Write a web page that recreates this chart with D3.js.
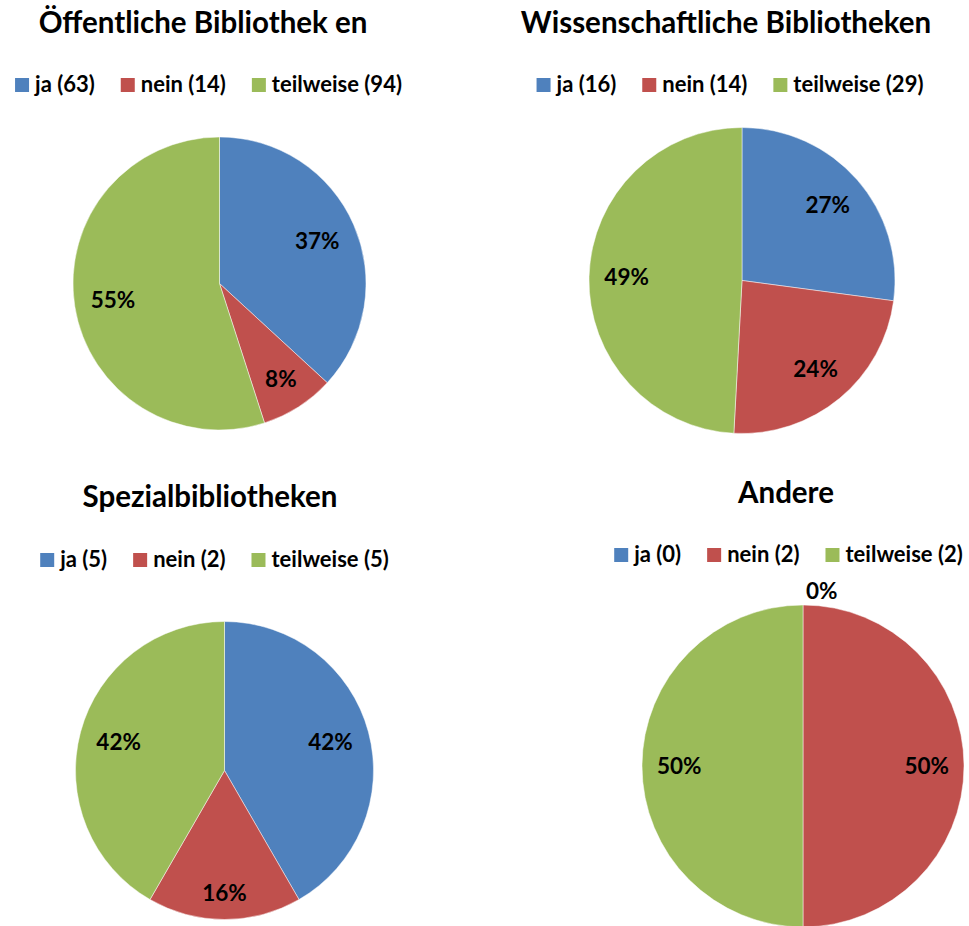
<!DOCTYPE html>
<html>
<head>
<meta charset="utf-8">
<title>Bibliotheken - ja / nein / teilweise</title>
<script src="https://d3js.org/d3.v7.min.js"></script>
<style>
  body { margin: 0; background: #fff; }
  text { font-family: Lato, "Open Sans", sans-serif; font-weight: bold; fill: #000; }
  .slice { stroke: #fff; stroke-width: 0.8; stroke-opacity: 0.6; }
</style>
</head>
<body>
<svg width="969" height="926"></svg>
<script>
var titles = ["Öffentliche Bibliothek en", "Wissenschaftliche Bibliotheken", "Spezialbibliotheken", "Andere"];
var categories = ["ja", "nein", "teilweise"];
var oeffentliche = [63, 14, 94];
var wissenschaftliche = [16, 14, 29];
var spezial = [5, 2, 5];
var andere = [0, 2, 2];
var colors = ["#4F81BD", "#C0504D", "#9BBB59"];

var series = [oeffentliche, wissenschaftliche, spezial, andere];

// where each pie goes on the page
var layout = [
  {cx: 219.5, cy: 283.5, r: 146.5, tx: 203, ty: 33,  lx: 208.5, ly: 85},
  {cx: 742,   cy: 280.5, r: 153,   tx: 726, ty: 33,  lx: 730,   ly: 85},
  {cx: 224.5, cy: 770.5, r: 149,   tx: 210, ty: 507, lx: 214.5, ly: 560},
  {cx: 803,   cy: 766,   r: 161,   tx: 786, ty: 503, lx: 788.5, ly: 555}
];

var titleSize = 29.5, legendSize = 22, labelSize = 22.5;

// rounded percentages that add up to 100 (largest remainder)
function percents(vals) {
  var total = d3.sum(vals);
  var raw = vals.map(function(v) { return v / total * 100; });
  var out = raw.map(Math.floor);
  var left = 100 - d3.sum(out);
  var order = d3.range(vals.length).sort(function(a, b) {
    return (raw[b] - out[b]) - (raw[a] - out[a]);
  });
  for (var i = 0; i < left; i++) out[order[i]] += 1;
  return out;
}

var svg = d3.select("svg");
var color = d3.scaleOrdinal().domain(categories).range(colors);

var pie = d3.pie().sort(null).value(function(d) { return d.value; });

series.forEach(function(vals, k) {
  var L = layout[k];
  var data = categories.map(function(c, i) { return {name: c, value: vals[i]}; });
  var pcts = percents(vals);

  svg.append("text")
    .attr("x", L.tx).attr("y", L.ty)
    .attr("text-anchor", "middle")
    .style("font-size", titleSize + "px")
    .text(titles[k]);

  // legend, centred at lx
  var leg = svg.append("g");
  var x = 0;
  data.forEach(function(d) {
    leg.append("rect")
      .attr("x", x).attr("y", L.ly - 7)
      .attr("width", 14).attr("height", 14)
      .attr("fill", color(d.name));
    var t = leg.append("text")
      .attr("x", x + 20).attr("y", L.ly + 7)
      .style("font-size", legendSize + "px")
      .text(d.name + " (" + d.value + ")");
    x += 20 + t.node().getComputedTextLength() + 26;
  });
  x -= 26;
  leg.attr("transform", "translate(" + (L.lx - x / 2) + ",0)");

  var g = svg.append("g").attr("transform", "translate(" + L.cx + "," + L.cy + ")");
  var arc = d3.arc().innerRadius(0).outerRadius(L.r);
  var arcs = pie(data);

  g.selectAll(".slice")
    .data(arcs)
    .enter().append("path")
    .attr("class", "slice")
    .attr("d", arc)
    .attr("fill", function(d) { return color(d.data.name); });

  g.selectAll(".lbl")
    .data(arcs)
    .enter().append("text")
    .attr("class", "lbl")
    .style("font-size", labelSize + "px")
    .attr("dy", "0.35em")
    .text(function(d, i) { return pcts[i] + "%"; })
    .each(function(d) {
      var a = (d.startAngle + d.endAngle) / 2;
      var w = this.getComputedTextLength(), h = 22;
      var ext = w / 2 * Math.abs(Math.sin(a)) + h / 2 * Math.abs(Math.cos(a));
      var el = d3.select(this);
      if (d.value === 0) {
        // empty slice: label sits just outside the rim
        var dist = L.r + 3 + ext;
        el.attr("text-anchor", "start")
          .attr("x", Math.sin(a) * dist + 3)
          .attr("y", -Math.cos(a) * dist);
      } else {
        var dist2 = L.r - 15 - ext;
        el.attr("text-anchor", "middle")
          .attr("x", Math.sin(a) * dist2)
          .attr("y", -Math.cos(a) * dist2);
      }
    });
});
</script>
</body>
</html>
